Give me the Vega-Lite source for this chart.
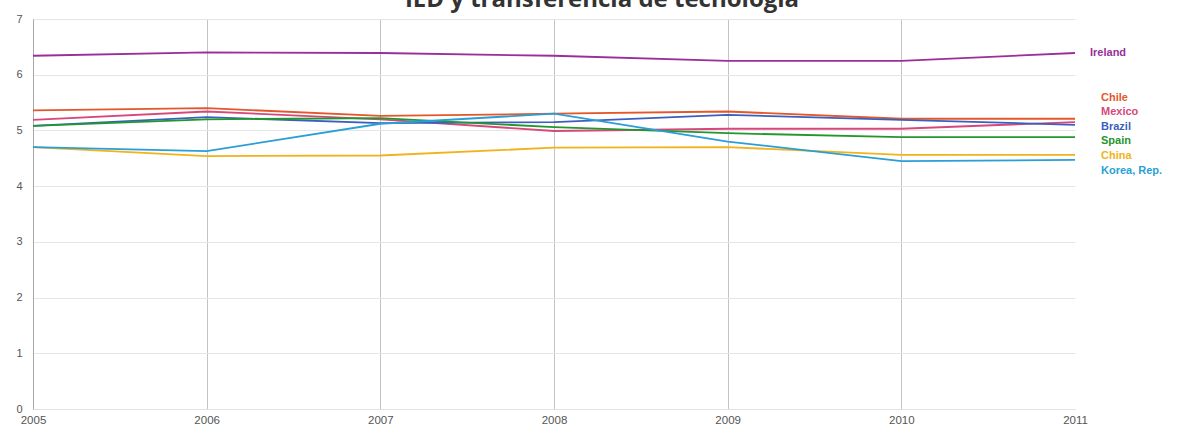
{
  "$schema": "https://vega.github.io/schema/vega-lite/v6.json",
  "width": 1042,
  "height": 390,
  "autosize": {"type": "none"},
  "padding": {"left": 33, "top": 19, "right": 106, "bottom": 22},
  "background": "white",
  "config": {"view": {"stroke": null}},
  "title": {
    "text": "IED y transferencia de tecnología",
    "font": "Open Sans",
    "fontSize": 24,
    "fontWeight": "bold",
    "color": "#333333",
    "anchor": "middle",
    "frame": "group",
    "dx": 48,
    "offset": -18,
    "baseline": "alphabetic"
  },
  "data": {
    "values": [
      {"country": "Ireland", "year": 2005, "value": 6.34},
      {"country": "Ireland", "year": 2006, "value": 6.40},
      {"country": "Ireland", "year": 2007, "value": 6.39},
      {"country": "Ireland", "year": 2008, "value": 6.34},
      {"country": "Ireland", "year": 2009, "value": 6.25},
      {"country": "Ireland", "year": 2010, "value": 6.25},
      {"country": "Ireland", "year": 2011, "value": 6.39},
      {"country": "Chile", "year": 2005, "value": 5.36},
      {"country": "Chile", "year": 2006, "value": 5.40},
      {"country": "Chile", "year": 2007, "value": 5.26},
      {"country": "Chile", "year": 2008, "value": 5.30},
      {"country": "Chile", "year": 2009, "value": 5.34},
      {"country": "Chile", "year": 2010, "value": 5.21},
      {"country": "Chile", "year": 2011, "value": 5.21},
      {"country": "Mexico", "year": 2005, "value": 5.19},
      {"country": "Mexico", "year": 2006, "value": 5.34},
      {"country": "Mexico", "year": 2007, "value": 5.20},
      {"country": "Mexico", "year": 2008, "value": 4.99},
      {"country": "Mexico", "year": 2009, "value": 5.03},
      {"country": "Mexico", "year": 2010, "value": 5.03},
      {"country": "Mexico", "year": 2011, "value": 5.15},
      {"country": "Brazil", "year": 2005, "value": 5.08},
      {"country": "Brazil", "year": 2006, "value": 5.24},
      {"country": "Brazil", "year": 2007, "value": 5.13},
      {"country": "Brazil", "year": 2008, "value": 5.15},
      {"country": "Brazil", "year": 2009, "value": 5.28},
      {"country": "Brazil", "year": 2010, "value": 5.19},
      {"country": "Brazil", "year": 2011, "value": 5.10},
      {"country": "Spain", "year": 2005, "value": 5.08},
      {"country": "Spain", "year": 2006, "value": 5.20},
      {"country": "Spain", "year": 2007, "value": 5.22},
      {"country": "Spain", "year": 2008, "value": 5.06},
      {"country": "Spain", "year": 2009, "value": 4.95},
      {"country": "Spain", "year": 2010, "value": 4.88},
      {"country": "Spain", "year": 2011, "value": 4.88},
      {"country": "China", "year": 2005, "value": 4.70},
      {"country": "China", "year": 2006, "value": 4.54},
      {"country": "China", "year": 2007, "value": 4.55},
      {"country": "China", "year": 2008, "value": 4.69},
      {"country": "China", "year": 2009, "value": 4.70},
      {"country": "China", "year": 2010, "value": 4.56},
      {"country": "China", "year": 2011, "value": 4.56},
      {"country": "Korea, Rep.", "year": 2005, "value": 4.70},
      {"country": "Korea, Rep.", "year": 2006, "value": 4.63},
      {"country": "Korea, Rep.", "year": 2007, "value": 5.12},
      {"country": "Korea, Rep.", "year": 2008, "value": 5.30},
      {"country": "Korea, Rep.", "year": 2009, "value": 4.80},
      {"country": "Korea, Rep.", "year": 2010, "value": 4.45},
      {"country": "Korea, Rep.", "year": 2011, "value": 4.47}
    ]
  },
  "encoding": {
    "x": {
      "field": "year",
      "type": "quantitative",
      "scale": {"domain": [2005, 2011]},
      "axis": {
        "values": [2005, 2006, 2007, 2008, 2009, 2010, 2011],
        "format": "d",
        "title": null,
        "grid": true,
        "gridColor": "#c4c4c4",
        "gridOpacity": {"condition": {"test": "datum.value === 2011", "value": 0}, "value": 1},
        "ticks": false,
        "domainColor": "#e2e2e2",
        "labelColor": "#555555",
        "labelFont": "Liberation Sans",
        "labelFontSize": 11.5,
        "labelFlush": false,
        "labelPadding": 5
      }
    },
    "y": {
      "field": "value",
      "type": "quantitative",
      "scale": {"domain": [0, 7]},
      "axis": {
        "values": [0, 1, 2, 3, 4, 5, 6, 7],
        "title": null,
        "grid": true,
        "gridColor": "#e6e6e6",
        "ticks": false,
        "domainColor": "#a8a8a8",
        "labelColor": "#555555",
        "labelFont": "Liberation Sans",
        "labelFontSize": 11,
        "labelPadding": 11
      }
    },
    "color": {
      "field": "country",
      "type": "nominal",
      "scale": {
        "domain": ["Ireland", "Chile", "Mexico", "Brazil", "Spain", "China", "Korea, Rep."],
        "range": ["#9a2f9a", "#e3572a", "#d8477c", "#3a5fc0", "#23962f", "#f2b21c", "#2a9fd6"]
      },
      "legend": {
        "orient": "none",
        "legendX": 1057,
        "legendY": 73,
        "values": ["Chile", "Mexico", "Brazil", "Spain", "China", "Korea, Rep."],
        "title": null,
        "symbolSize": 0,
        "symbolOpacity": 0,
        "symbolStrokeWidth": 0,
        "labelOffset": 0,
        "labelFont": "Liberation Sans",
        "labelFontWeight": "bold",
        "labelFontSize": 11,
        "rowPadding": 2.6,
        "padding": 0,
        "encode": {
          "labels": {"update": {"fill": {"scale": "color", "field": "value"}}}
        }
      }
    }
  },
  "layer": [
    {
      "mark": {"type": "line", "strokeWidth": 1.8}
    },
    {
      "transform": [{"filter": "datum.country === 'Ireland' && datum.year === 2011"}],
      "mark": {
        "type": "text",
        "align": "left",
        "baseline": "middle",
        "dx": 15,
        "font": "Liberation Sans",
        "fontWeight": "bold",
        "fontSize": 11
      },
      "encoding": {"text": {"field": "country"}}
    }
  ]
}
